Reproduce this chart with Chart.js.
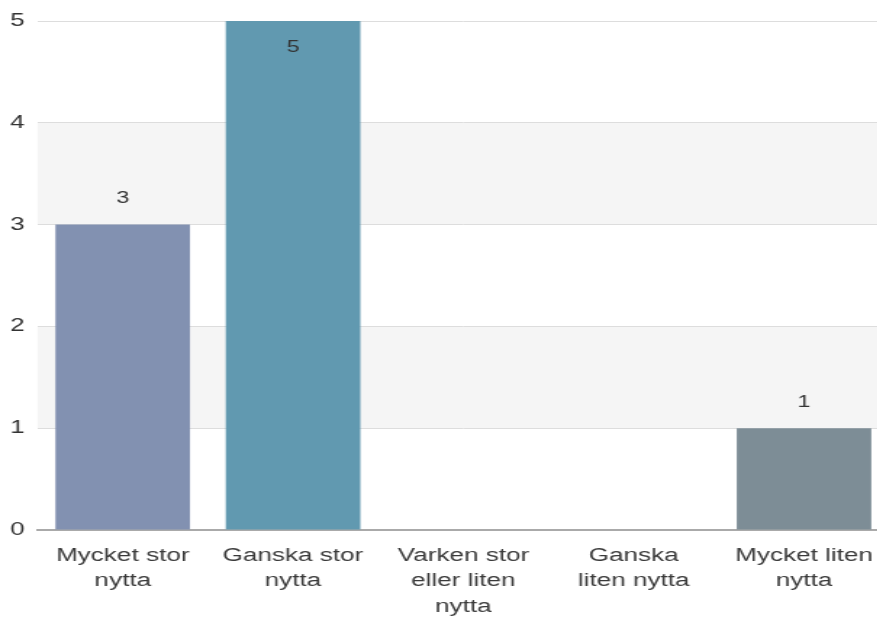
<!DOCTYPE html>
<html>
<head>
<meta charset="utf-8">
<script src="https://cdn.jsdelivr.net/npm/chart.js@4.4.1/dist/chart.umd.min.js"></script>
<style>
  html, body { margin: 0; padding: 0; background: #fff; overflow: hidden; width: 877px; height: 621px; }
  #wrap { width: 615px; height: 621px; transform: scaleX(1.45); transform-origin: 0 0; }
  canvas { display: block; }
</style>
</head>
<body>
<div id="wrap"><canvas id="c" width="615" height="621"></canvas></div>
<script>
const categories = [
  ["Mycket stor", "nytta"],
  ["Ganska stor", "nytta"],
  ["Varken stor", "eller liten", "nytta"],
  ["Ganska", "liten nytta"],
  ["Mycket liten", "nytta"]
];
const values = [3, 5, 0, 0, 1];
const barColors = ["#8291b1", "#6199b0", "#7b9fbd", "#8aa0a8", "#7d8d96"];
const yTicks = [0, 1, 2, 3, 4, 5];

const bandPlugin = {
  id: 'bands',
  beforeDraw(chart) {
    const { ctx, chartArea, scales } = chart;
    const y = scales.y;
    ctx.save();
    ctx.fillStyle = '#f5f5f5';
    for (let i = 0; i < yTicks.length - 1; i++) {
      if (i % 2 === 1) {
        const top = y.getPixelForValue(yTicks[i + 1]);
        const bot = y.getPixelForValue(yTicks[i]);
        ctx.fillRect(chartArea.left, top, chartArea.right - chartArea.left, bot - top);
      }
    }
    ctx.restore();
  }
};

const labelPlugin = {
  id: 'vals',
  afterDatasetsDraw(chart) {
    const { ctx } = chart;
    const meta = chart.getDatasetMeta(0);
    const yMax = chart.scales.y.max;
    ctx.save();
    ctx.font = '16px "Liberation Sans", Arial, sans-serif';
    ctx.fillStyle = '#333';
    ctx.textAlign = 'center';
    ctx.textBaseline = 'middle';
    meta.data.forEach((bar, i) => {
      const v = values[i];
      if (!v) return;
      const yy = v >= yMax ? bar.y + 27 : bar.y - 26;
      ctx.fillText(String(v), bar.x, yy);
    });
    ctx.restore();
  }
};

new Chart(document.getElementById('c'), {
  type: 'bar',
  data: {
    labels: categories,
    datasets: [{
      data: values,
      backgroundColor: barColors,
      borderWidth: 0,
      categoryPercentage: 1,
      barPercentage: 0.79
    }]
  },
  options: {
    responsive: false,
    animation: false,
    devicePixelRatio: 1,
    layout: { padding: { top: 21, left: 0, right: 0, bottom: 0 } },
    plugins: { legend: { display: false }, tooltip: { enabled: false } },
    scales: {
      x: {
        grid: { display: false, drawTicks: false },
        border: { color: '#aaaaaa', width: 2 },
        ticks: {
          color: '#3a3a3a',
          font: { family: '"Liberation Sans", Arial, sans-serif', size: 18, lineHeight: 1.42 },
          padding: 13,
          maxRotation: 0,
          autoSkip: false
        },
        afterFit(scale) { scale.height = 91; }
      },
      y: {
        min: 0, max: 5,
        grid: { color: '#dddddd', lineWidth: 1, drawTicks: false },
        border: { display: false },
        ticks: {
          stepSize: 1,
          color: '#333',
          font: { family: '"Liberation Sans", Arial, sans-serif', size: 18 },
          padding: 9
        },
        afterFit(scale) { scale.width = 25.9; }
      }
    }
  },
  plugins: [bandPlugin, labelPlugin]
});
</script>
</body>
</html>
